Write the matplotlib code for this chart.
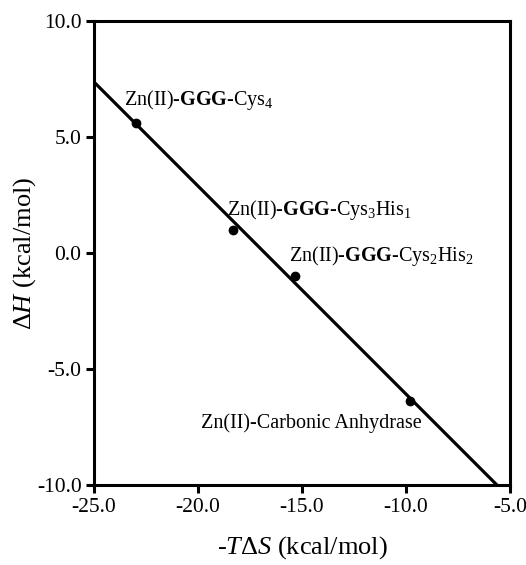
import matplotlib
matplotlib.use("Agg")
import matplotlib.pyplot as plt
import numpy as np

# Data
x_pts = [-23.0, -18.3, -15.35, -9.8]
y_pts = [5.6, 1.0, -1.0, -6.38]
labels = [r"Zn(II)-$\mathbf{GGG}$-Cys$_4$",
          r"Zn(II)-$\mathbf{GGG}$-Cys$_3$His$_1$",
          r"Zn(II)-$\mathbf{GGG}$-Cys$_2$His$_2$",
          r"Zn(II)-Carbonic Anhydrase"]
label_pos = [(-23.56, 6.4), (-18.6, 1.65), (-15.63, -0.35), (-19.85, -7.55)]
fit_x = [-25.0, -5.63]
fit_y = [7.37, -10.0]
xticks = [-25.0, -20.0, -15.0, -10.0, -5.0]
yticks = [-10.0, -5.0, 0.0, 5.0, 10.0]

plt.rcParams['font.family'] = ['Liberation Serif', 'DejaVu Serif']
plt.rcParams['mathtext.fontset'] = 'custom'
plt.rcParams['mathtext.rm'] = 'Liberation Serif'
plt.rcParams['mathtext.it'] = 'Liberation Serif:italic'
plt.rcParams['mathtext.bf'] = 'Liberation Serif:bold'

fig = plt.figure(figsize=(5.26, 5.65), dpi=100)
ax = fig.add_axes([94/526, 1-485/565, (510-94)/526, (485-21)/565])

ax.plot(fit_x, fit_y, color='black', lw=2.3, solid_capstyle='butt', clip_on=True)
ax.plot(x_pts, y_pts, 'o', color='black', ms=6)
for lab, (lx, ly) in zip(labels, label_pos):
    ax.text(lx, ly, lab, fontsize=14.5, ha='left', va='baseline')

ax.set_xlim(-25, -5)
ax.set_ylim(-10, 10)
ax.set_xticks(xticks)
ax.set_yticks(yticks)
ax.set_xticklabels([f"{t:.1f}" for t in xticks])
ax.set_yticklabels([f"{t:.1f}" for t in yticks])
ax.tick_params(direction='out', length=6, width=2.2, labelsize=15.5, pad=3)
for s in ax.spines.values():
    s.set_linewidth(2.2)

ax.set_xlabel(r"-$T\Delta S$ (kcal/mol)", fontsize=19, labelpad=13)
ax.set_ylabel(r"$\Delta H$ (kcal/mol)", fontsize=19, labelpad=-1)

fig.savefig("out.png", dpi=100)
